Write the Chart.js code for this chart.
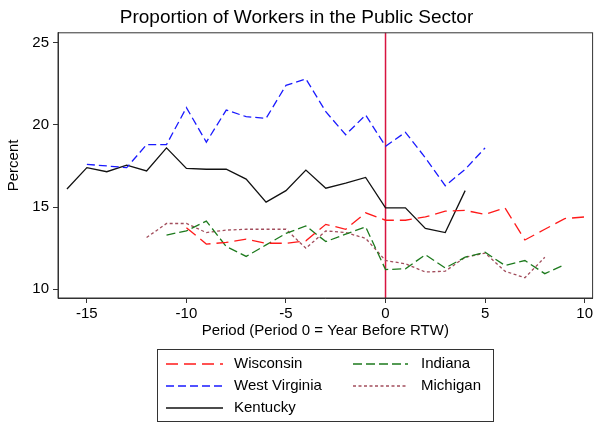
<!DOCTYPE html>
<html lang="en">
<head>
<meta charset="UTF-8">
<script src="https://cdn.jsdelivr.net/npm/chart.js"></script>
<style>
  html, body { margin: 0; padding: 0; background: #fff; }
  #wrap { width: 595px; height: 424px; }
</style>
</head>
<body>
<div id="wrap"><canvas id="chart" width="595" height="424"></canvas></div>
<script>
// periods and values
const wiPeriods = [-10, -9, -8, -7, -6, -5, -4, -3, -2, -1, 0, 1, 2, 3, 4, 5, 6, 7, 8, 9, 10];
const wiValues  = [13.75, 12.75, 12.85, 13.05, 12.8, 12.8, 12.95, 13.95, 13.65, 14.65, 14.2, 14.2, 14.4, 14.75, 14.8, 14.55, 14.95, 13.0, 13.65, 14.3, 14.4];

const wvPeriods = [-15, -14, -13, -12, -11, -10, -9, -8, -7, -6, -5, -4, -3, -2, -1, 0, 1, 2, 3, 4, 5];
const wvValues  = [17.6, 17.5, 17.4, 18.8, 18.8, 21.05, 18.95, 20.9, 20.5, 20.4, 22.4, 22.8, 20.8, 19.4, 20.6, 18.7, 19.55, 18.0, 16.3, 17.3, 18.6];

const kyPeriods = [-16, -15, -14, -13, -12, -11, -10, -9, -8, -7, -6, -5, -4, -3, -2, -1, 0, 1, 2, 3, 4];
const kyValues  = [16.1, 17.4, 17.15, 17.55, 17.2, 18.6, 17.35, 17.3, 17.3, 16.7, 15.3, 16.0, 17.25, 16.15, 16.45, 16.8, 14.95, 14.95, 13.7, 13.45, 16.0];

const inPeriods = [-11, -10, -9, -8, -7, -6, -5, -4, -3, -2, -1, 0, 1, 2, 3, 4, 5, 6, 7, 8, 9];
const inValues  = [13.3, 13.55, 14.15, 12.6, 12.0, 12.7, 13.4, 13.85, 12.9, 13.35, 13.8, 11.2, 11.25, 12.1, 11.3, 11.95, 12.25, 11.45, 11.75, 10.95, 11.5];

const miPeriods = [-12, -11, -10, -9, -8, -7, -6, -5, -4, -3, -2, -1, 0, 1, 2, 3, 4, 5, 6, 7, 8];
const miValues  = [13.15, 14.0, 14.0, 13.45, 13.6, 13.65, 13.65, 13.65, 12.5, 13.55, 13.45, 13.1, 11.75, 11.55, 11.05, 11.1, 11.95, 12.2, 11.1, 10.7, 11.95];

const xTicks = [-15, -10, -5, 0, 5, 10];
const yTicks = [10, 15, 20, 25];
const treatPeriod = 0;

const FONT = "'Liberation Sans', Arial, Helvetica, sans-serif";

function pts(xs, ys) {
    return xs.map((x, i) => ({ x: x, y: ys[i] }));
}

const series = [
    { label: 'Wisconsin',     data: pts(wiPeriods, wiValues), color: '#ff1a1a', dash: [12, 6] },
    { label: 'West Virginia', data: pts(wvPeriods, wvValues), color: '#1a1aff', dash: [8, 4] },
    { label: 'Kentucky',      data: pts(kyPeriods, kyValues), color: '#111111', dash: [] },
    { label: 'Indiana',       data: pts(inPeriods, inValues), color: '#1d7a1d', dash: [9, 4] },
    { label: 'Michigan',      data: pts(miPeriods, miValues), color: '#a24d5c', dash: [3, 2.5] }
];

// frame, vertical line at period 0, legend box
const extras = {
    id: 'extras',
    beforeDatasetsDraw(chart) {
        const ctx = chart.ctx;
        const a = chart.chartArea;
        const xp = chart.scales.x.getPixelForValue(treatPeriod);
        ctx.save();
        ctx.strokeStyle = '#d81440';
        ctx.lineWidth = 1.5;
        ctx.beginPath();
        ctx.moveTo(xp, a.top);
        ctx.lineTo(xp, a.bottom);
        ctx.stroke();
        ctx.restore();
    },
    afterDraw(chart) {
        const ctx = chart.ctx;
        const a = chart.chartArea;
        ctx.save();
        ctx.strokeStyle = '#333';
        ctx.lineWidth = 1;
        ctx.strokeRect(a.left, a.top, a.right - a.left, a.bottom - a.top);

        // legend
        ctx.strokeRect(157.5, 349.5, 336, 72);
        const cols = [{ x1: 166, x2: 223, tx: 234 }, { x1: 353, x2: 408, tx: 421 }];
        const rows = [364, 386, 408];
        const order = [[0, 0, 0], [1, 0, 1], [2, 0, 2], [3, 1, 0], [4, 1, 1]];
        ctx.font = '15px ' + FONT;
        ctx.textBaseline = 'middle';
        ctx.textAlign = 'left';
        order.forEach(o => {
            const s = series[o[0]];
            const c = cols[o[1]];
            const y = rows[o[2]];
            ctx.strokeStyle = s.color;
            ctx.lineWidth = 1.3;
            ctx.setLineDash(s.dash);
            ctx.beginPath();
            ctx.moveTo(c.x1, y);
            ctx.lineTo(c.x2, y);
            ctx.stroke();
            ctx.setLineDash([]);
            ctx.fillStyle = '#000';
            ctx.fillText(s.label, c.tx, y);
        });
        ctx.restore();
    }
};

new Chart(document.getElementById('chart'), {
    type: 'line',
    data: {
        datasets: series.map(s => ({
            label: s.label,
            data: s.data,
            borderColor: s.color,
            borderDash: s.dash,
            borderWidth: 1.3,
            pointRadius: 0,
            tension: 0,
            fill: false
        }))
    },
    options: {
        responsive: false,
        animation: false,
        layout: { padding: { left: 0, right: 2, top: 0, bottom: 84 } },
        plugins: {
            legend: { display: false },
            tooltip: { enabled: false },
            title: {
                display: true,
                text: 'Proportion of Workers in the Public Sector',
                color: '#000',
                font: { family: FONT, size: 19, weight: 'normal' },
                padding: { top: 6, bottom: 4 }
            }
        },
        scales: {
            x: {
                type: 'linear',
                min: -16.45,
                max: 10.4,
                afterBuildTicks(scale) { scale.ticks = xTicks.map(v => ({ value: v })); },
                afterFit(scale) { scale.height = 42; },
                grid: { drawOnChartArea: false, drawTicks: true, tickLength: 5, color: '#333' },
                border: { display: true, color: '#333' },
                ticks: { color: '#000', font: { family: FONT, size: 15 }, padding: 2, maxRotation: 0 },
                title: {
                    display: true,
                    text: 'Period (Period 0 = Year Before RTW)',
                    color: '#000',
                    font: { family: FONT, size: 15 },
                    padding: { top: 0, bottom: 0 }
                }
            },
            y: {
                min: 9.47,
                max: 25.6,
                afterBuildTicks(scale) { scale.ticks = yTicks.map(v => ({ value: v })); },
                afterFit(scale) { scale.width = 58; },
                grid: { drawOnChartArea: false, drawTicks: true, tickLength: 5, color: '#333' },
                border: { display: true, color: '#333' },
                ticks: { color: '#000', font: { family: FONT, size: 15 }, padding: 4 },
                title: {
                    display: true,
                    text: 'Percent',
                    color: '#000',
                    font: { family: FONT, size: 15 },
                    padding: { top: 5, bottom: 0 }
                }
            }
        }
    },
    plugins: [extras]
});
</script>
</body>
</html>
